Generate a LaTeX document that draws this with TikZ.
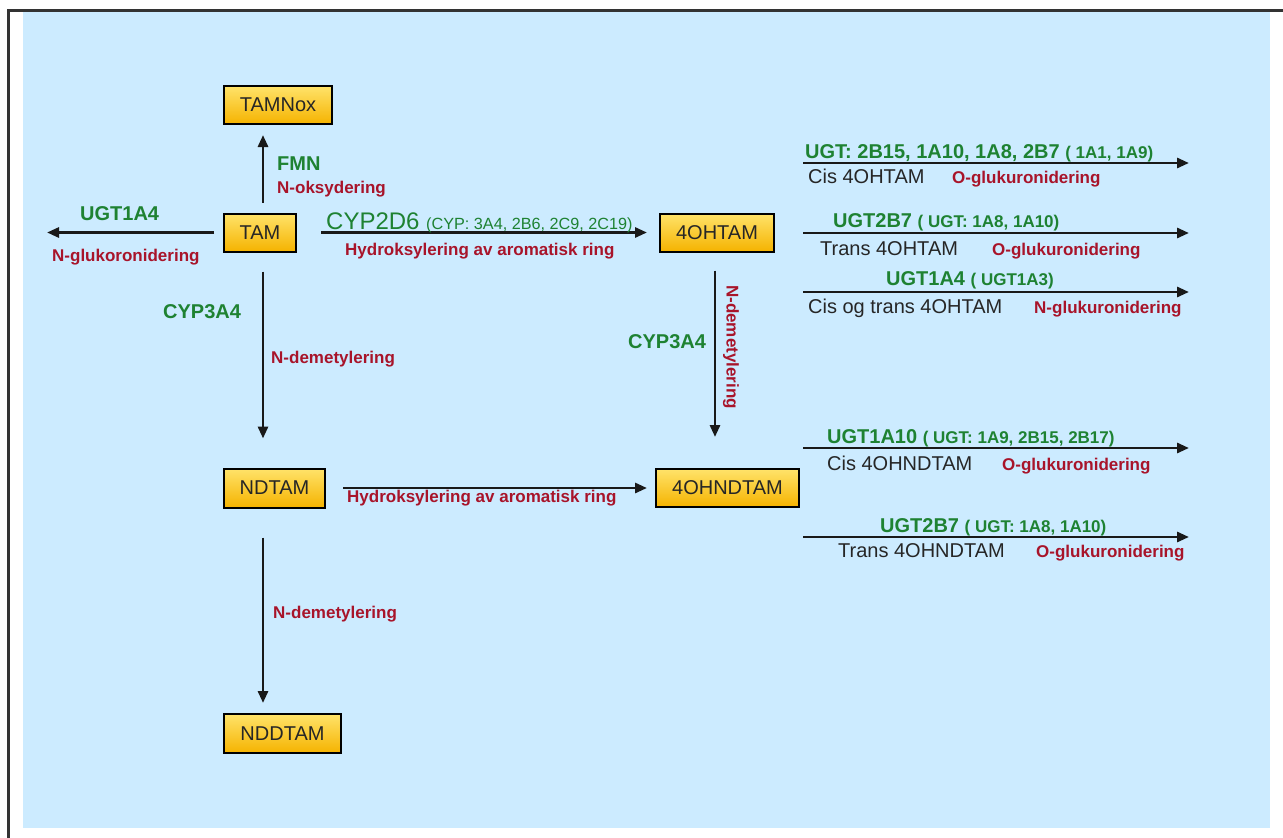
\documentclass[tikz,border=0pt]{standalone}
\usepackage{fontspec}
\setmainfont{Liberation Sans}
\usetikzlibrary{arrows.meta}
\definecolor{bg}{HTML}{CCEBFF}
\definecolor{grn}{HTML}{1E8232}
\definecolor{rd}{HTML}{A8142A}
\definecolor{frm}{HTML}{333333}
\definecolor{boxtop}{HTML}{FFE36A}
\definecolor{boxbot}{HTML}{F5B300}
\newcommand\enzsmall{\fontsize{17}{20}\selectfont}
\begin{document}
\begin{tikzpicture}[x=1pt,y=-1pt,
  box/.style={draw=black, line width=2pt, top color=boxtop, bottom color=boxbot,
    minimum height=38pt, inner sep=0pt, font=\fontsize{20}{24}\selectfont, text=black!85},
  arr/.style={line width=2.8pt, draw=black!90, -{Triangle[length=12pt,width=10pt]}},
  enz/.style={text=grn, font=\fontsize{20}{24}\selectfont\bfseries, inner sep=0pt, anchor=base west},
  rxn/.style={text=rd, font=\fontsize{17}{20}\selectfont\bfseries, inner sep=0pt, anchor=base west},
  lbl/.style={text=black!85, font=\fontsize{20}{24}\selectfont, inner sep=0pt, anchor=base west}
]
\useasboundingbox (0,0) rectangle (1283,838);
\fill[white] (0,0) rectangle (1283,838);
\fill[bg] (23,12) rectangle (1270,828);
\draw[frm, line width=3pt] (8.5,838) -- (8.5,10.5) -- (1283,10.5);

% boxes
\node[box, minimum width=108pt] (tamnox) at (278,105) {TAMNox};
\node[box, minimum width=72pt] (tam) at (260,232.5) {TAM};
\node[box, minimum width=114pt] (oht) at (717,232.5) {4OHTAM};
\node[box, minimum width=101pt, minimum height=39pt] (ndtam) at (274.5,488) {NDTAM};
\node[box, minimum width=143pt] (ohnd) at (727.5,488) {4OHNDTAM};
\node[box, minimum width=117pt, minimum height=39pt] (nddtam) at (282.5,733.5) {NDDTAM};

% arrows between boxes
\draw[arr, shorten <=10pt, shorten >=10pt] ([xshift=3pt]tam.north) -- ([xshift=3pt]tam.north |- tamnox.south);
\coordinate (gl) at (47,232.5);
\draw[arr, shorten <=9pt] (tam.west) -- (gl);
\draw[arr, shorten <=24pt, shorten >=12pt] (tam.east) -- (oht.west);
\draw[arr, shorten <=19pt, shorten >=29pt] ([xshift=3pt]tam.south) -- ([xshift=3pt]tam.south |- ndtam.north);
\draw[arr, shorten <=18pt, shorten >=31pt] ([xshift=-2pt]oht.south) -- ([xshift=-2pt]oht.south |- ohnd.north);
\draw[arr, shorten <=17pt, shorten >=8pt] (ndtam.east) -- (ohnd.west);
\draw[arr, shorten <=29pt, shorten >=10pt] ([xshift=-11.5pt]ndtam.south) -- ([xshift=-11.5pt]ndtam.south |- nddtam.north);

% right-hand arrows
\coordinate (r1a) at (803,163); \coordinate (r1b) at (1189,163);
\coordinate (r2a) at (803,233); \coordinate (r2b) at (1189,233);
\coordinate (r3a) at (803,292); \coordinate (r3b) at (1189,292);
\coordinate (r4a) at (803,448); \coordinate (r4b) at (1189,448);
\coordinate (r5a) at (803,537); \coordinate (r5b) at (1189,537);
\draw[arr] (r1a) -- (r1b);
\draw[arr] (r2a) -- (r2b);
\draw[arr] (r3a) -- (r3b);
\draw[arr] (r4a) -- (r4b);
\draw[arr] (r5a) -- (r5b);

% labels near TAM
\node[enz] (fmn) at (277,170) {FMN};
\node[rxn] (nox) at (277,193) {N-oksydering};
\node[enz] (ugtl) at (80,220) {UGT1A4};
\node[rxn] (nglu) at (52,261) {N-glukoronidering};
\node[enz, text=grn, font=\fontsize{24}{28}\selectfont] (cyp2d6) at (326,229.5) {CYP2D6 {\fontsize{16.2}{19}\selectfont(CYP: 3A4, 2B6, 2C9, 2C19)}};
\node[rxn] (hyd1) at (345,255) {Hydroksylering av aromatisk ring};
\node[enz] (cyp3a) at (163,318) {CYP3A4};
\node[rxn] (ndem1) at (271,363) {N-demetylering};
\node[enz] (cyp3b) at (628,348) {CYP3A4};
\node[text=rd, font=\fontsize{17}{20}\selectfont\bfseries, inner sep=0pt, rotate=-90] (ndem2) at (731,347) {N-demetylering};
\node[rxn] (hyd2) at (347,502) {Hydroksylering av aromatisk ring};
\node[rxn] (ndem3) at (273,618) {N-demetylering};

% right-hand labels
\node[enz] (g1) at (805,158) {UGT: 2B15, 1A10, 1A8, 2B7 {\fontsize{17}{20}\selectfont( 1A1, 1A9)}};
\node[lbl] (b1) at (808,183) {Cis 4OHTAM};
\node[rxn] (c1) at (952,183) {O-glukuronidering};

\node[enz] (g2) at (833,227) {UGT2B7 {\enzsmall( UGT: 1A8, 1A10)}};
\node[lbl] (b2) at (820,255) {Trans 4OHTAM};
\node[rxn] (c2) at (992,255) {O-glukuronidering};

\node[enz] (g3) at (886,285) {UGT1A4 {\enzsmall( UGT1A3)}};
\node[lbl] (b3) at (808,313) {Cis og trans 4OHTAM};
\node[rxn] (c3) at (1034,313) {N-glukuronidering};

\node[enz] (g4) at (827,443) {UGT1A10 {\enzsmall( UGT: 1A9, 2B15, 2B17)}};
\node[lbl] (b4) at (827,470) {Cis 4OHNDTAM};
\node[rxn] (c4) at (1002,470) {O-glukuronidering};

\node[enz] (g5) at (880,532) {UGT2B7 {\enzsmall( UGT: 1A8, 1A10)}};
\node[lbl] (b5) at (838,557) {Trans 4OHNDTAM};
\node[rxn] (c5) at (1036,557) {O-glukuronidering};
\end{tikzpicture}
\end{document}
